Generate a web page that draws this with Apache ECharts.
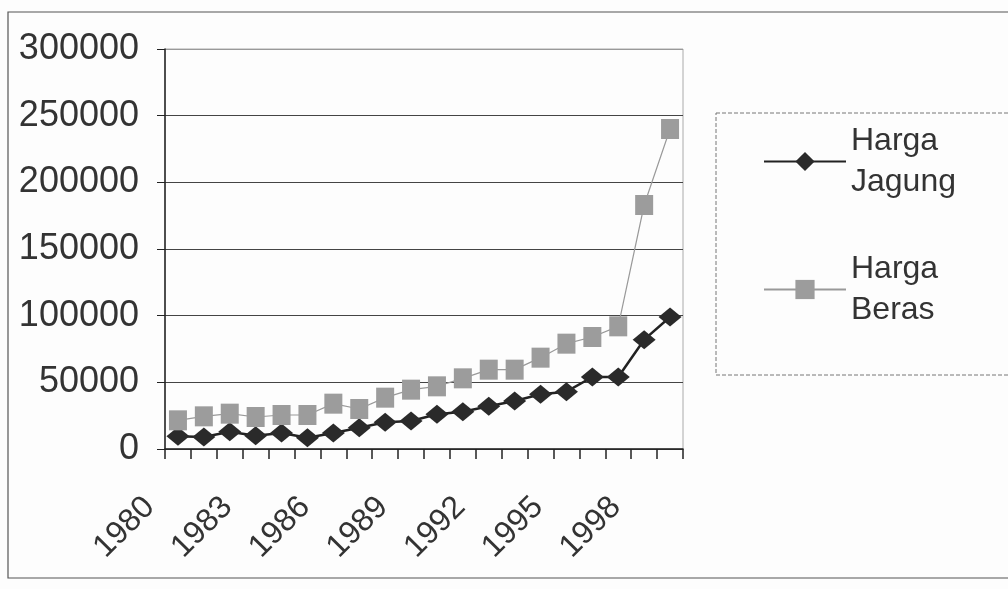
<!DOCTYPE html>
<html>
<head>
<meta charset="utf-8">
<script src="https://cdn.jsdelivr.net/npm/echarts@6/dist/echarts.min.js"></script>
<style>
html,body{margin:0;padding:0;background:#fdfdfd;}
#c{width:1008px;height:589px;}
</style>
</head>
<body>
<div id="c"></div>
<script>
var years = ['1980','1981','1982','1983','1984','1985','1986','1987','1988','1989','1990','1991','1992','1993','1994','1995','1996','1997','1998','1999'];
var hargaJagung = [9500, 9000, 13000, 10000, 12000, 8500, 12000, 16000, 20000, 21000, 26000, 28000, 32000, 36000, 41000, 43000, 54000, 54000, 82000, 99000];
var hargaBeras = [21500, 24500, 26500, 24000, 25500, 25500, 34000, 30000, 38500, 44500, 47000, 53000, 59500, 59500, 68500, 79000, 84000, 92000, 183000, 240000];
var seriesNames = ['Harga Jagung', 'Harga Beras'];

var chart = echarts.init(document.getElementById('c'));
var font = 'Liberation Sans, Arial, sans-serif';
chart.setOption({
  backgroundColor: '#fdfdfd',
  animation: false,
  textStyle: {fontFamily: font},
  graphic: [
    {type: 'rect', shape: {x: 8, y: 12, width: 1010, height: 566}, style: {fill: 'none', stroke: '#555', lineWidth: 1.2}, silent: true},
    {type: 'rect', shape: {x: 716, y: 113, width: 300, height: 262}, style: {fill: 'none', stroke: '#777', lineWidth: 1, lineDash: [4, 2]}, silent: true}
  ],
  grid: {left: 165, right: 325, top: 49, bottom: 140, show: true, borderColor: '#aaa', borderWidth: 1, backgroundColor: 'transparent'},
  legend: {
    orient: 'vertical',
    left: 763,
    top: 100,
    padding: 0,
    itemGap: 5,
    itemWidth: 82,
    itemHeight: 24,
    formatter: function (n) { return n.replace(' ', '\n'); },
    textStyle: {fontSize: 32, lineHeight: 41, color: '#333', fontFamily: font, padding: [41, 0, 0, 0]},
    data: seriesNames
  },
  xAxis: {
    type: 'category',
    data: years,
    boundaryGap: true,
    axisLine: {lineStyle: {color: '#222', width: 1.5}},
    axisTick: {show: true, interval: 0, length: 10, lineStyle: {color: '#222', width: 1.5}},
    axisLabel: {interval: 2, rotate: 45, fontSize: 32, color: '#333', margin: 25, padding: [0, 40, 0, 0], fontFamily: font}
  },
  yAxis: {
    type: 'value',
    min: 0,
    max: 300000,
    interval: 50000,
    axisLine: {show: true, lineStyle: {color: '#222', width: 1.5}},
    axisTick: {show: true, length: 8, lineStyle: {color: '#222'}},
    axisLabel: {fontSize: 36, color: '#333', margin: 26, fontFamily: font, formatter: function (v) { return String(v); }},
    splitLine: {show: true, lineStyle: {color: ['#444', '#444', '#444', '#444', '#444', '#444', '#999'], width: 1.2}}
  },
  series: [
    {
      name: seriesNames[0],
      type: 'line',
      data: hargaJagung,
      symbol: 'diamond',
      symbolSize: [23, 19],
      showSymbol: true,
      showAllSymbol: true,
      lineStyle: {color: '#222', width: 2.5},
      itemStyle: {color: '#2a2a2a'}
    },
    {
      name: seriesNames[1],
      type: 'line',
      data: hargaBeras,
      symbol: 'rect',
      symbolSize: [18, 20],
      showSymbol: true,
      showAllSymbol: true,
      lineStyle: {color: '#999', width: 1.2},
      itemStyle: {color: '#9c9c9c'}
    }
  ]
});
</script>
</body>
</html>
